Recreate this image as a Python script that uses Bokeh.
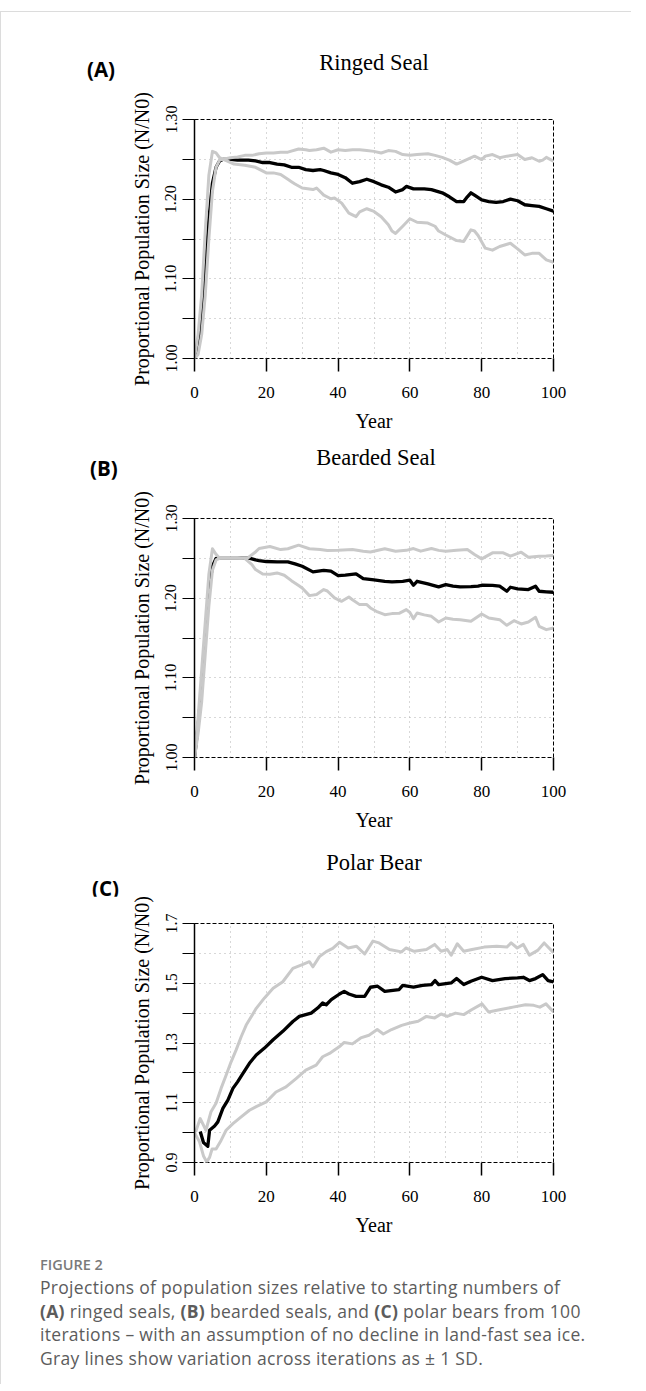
from bokeh.plotting import figure
from bokeh.models import FixedTicker, CustomJSTickFormatter, Div, Range1d
from bokeh.layouts import column
from bokeh.embed import file_html
from bokeh.resources import INLINE

# ---------------- data ----------------
x_ticks = [0, 20, 40, 60, 80, 100]
x_grid = [10, 20, 30, 40, 50, 60, 70, 80, 90]

seal_yticks = [1.00, 1.05, 1.10, 1.15, 1.20, 1.25, 1.30]
seal_ylabels = ["1.00", "", "1.10", "", "1.20", "", "1.30"]
bear_yticks = [0.9, 1.0, 1.1, 1.2, 1.3, 1.4, 1.5, 1.6, 1.7]
bear_ylabels = ["0.9", "", "1.1", "", "1.3", "", "1.5", "", "1.7"]

# (A) Ringed seal
a_mean_yr = [0, 1, 2, 3, 4, 5, 6, 7, 8, 10, 12, 15, 17, 19, 21, 23, 25, 27, 29, 31,
             33, 35, 36, 38, 40, 42, 44, 46, 48, 50, 52, 54, 56, 58, 59, 61, 64, 66, 69, 71,
             73, 75, 76, 77, 78, 80, 82, 84, 86, 88, 90, 92, 94, 96, 98, 100]
a_mean = [1.0, 1.015, 1.05, 1.11, 1.175, 1.22, 1.24, 1.248, 1.25, 1.25,
          1.249, 1.249, 1.248, 1.246, 1.246, 1.244, 1.243, 1.240, 1.240, 1.237,
          1.236, 1.237, 1.236, 1.233, 1.231, 1.227, 1.220, 1.222, 1.225, 1.222,
          1.218, 1.215, 1.209, 1.212, 1.216, 1.213, 1.213, 1.212, 1.208, 1.203,
          1.197, 1.197, 1.203, 1.208, 1.205, 1.199, 1.197, 1.196, 1.197, 1.200,
          1.198, 1.193, 1.192, 1.191, 1.188, 1.185]
a_up_yr = [0, 1, 2, 3, 4, 5, 6, 7, 8, 10, 12, 14, 16, 18, 20, 22, 24, 26, 29,
           31, 32, 34, 36, 38, 40, 42, 44, 46, 48, 50, 52, 54, 56, 58, 60, 62, 65, 67, 69,
           71, 73, 74, 76, 78, 80, 81, 83, 85, 87, 90, 92, 94, 96, 97, 98, 100]
a_up = [1.0, 1.03, 1.08, 1.16, 1.23, 1.26, 1.258, 1.252, 1.25,
        1.252, 1.253, 1.255, 1.255, 1.257, 1.258, 1.258, 1.259, 1.259, 1.263,
        1.262, 1.261, 1.262, 1.264, 1.259, 1.262, 1.261, 1.262, 1.262, 1.261,
        1.260, 1.258, 1.261, 1.260, 1.256, 1.255, 1.256, 1.257, 1.255, 1.2525,
        1.249, 1.244, 1.246, 1.250, 1.254, 1.2497, 1.254, 1.256, 1.252, 1.254,
        1.256, 1.2497, 1.252, 1.2476, 1.249, 1.2525, 1.2476]
a_lo_yr = [0, 1, 2, 3, 4, 5, 6, 7, 8, 9, 11, 14, 17, 20, 22, 24, 26, 27, 28, 30,
           33, 34, 36, 38, 39, 41, 43, 45, 46, 48, 50, 52, 54, 55, 56, 58, 60, 62, 65, 67,
           68, 70, 73, 75, 77, 78, 79, 81, 83, 85, 88, 90, 92, 94, 96, 98, 100]
a_lo = [1.0, 1.005, 1.03, 1.08, 1.15, 1.21, 1.24, 1.249, 1.25, 1.248,
        1.244, 1.2425, 1.24, 1.233, 1.233, 1.231, 1.225, 1.222, 1.219, 1.214,
        1.212, 1.214, 1.205, 1.2005, 1.2014, 1.195, 1.1825, 1.178, 1.184, 1.188,
        1.1846, 1.178, 1.168, 1.160, 1.157, 1.166, 1.1754, 1.171, 1.170, 1.166,
        1.160, 1.155, 1.148, 1.147, 1.1615, 1.160, 1.1544, 1.1385, 1.136, 1.1406,
        1.1447, 1.1376, 1.130, 1.132, 1.132, 1.1238, 1.1208]

# (B) Bearded seal
b_mean_yr = [0, 1, 2, 3, 4, 5, 6, 8, 10, 12, 15, 17, 18, 20, 23, 26, 28, 30, 33, 36,
             38, 40, 42, 45, 47, 50, 53, 55, 58, 60, 61, 62, 65, 68, 70, 72, 74, 77, 79, 80,
             83, 85, 87, 88, 90, 93, 95, 96, 98, 100]
b_mean = [1.0, 1.04, 1.09, 1.15, 1.21, 1.24, 1.25, 1.25, 1.25, 1.25,
          1.2506, 1.248, 1.2472, 1.246, 1.2455, 1.2455, 1.243, 1.240, 1.233, 1.235,
          1.234, 1.2284, 1.229, 1.2304, 1.2246, 1.2229, 1.221, 1.2204, 1.2212, 1.2225,
          1.2162, 1.2212, 1.2179, 1.2141, 1.217, 1.215, 1.2141, 1.2145, 1.215, 1.2162,
          1.216, 1.215, 1.2087, 1.2137, 1.2116, 1.2108, 1.215, 1.2087, 1.208, 1.2074]
b_up_yr = [0, 1, 2, 3, 4, 5, 6, 7, 10, 13, 15, 17, 18, 21, 24, 26, 29, 32, 35, 37,
           40, 44, 47, 49, 53, 56, 59, 61, 63, 66, 68, 70, 73, 76, 78, 80, 83, 86, 88, 91,
           93, 96, 98, 100]
b_up = [1.0, 1.05, 1.11, 1.17, 1.23, 1.262, 1.255, 1.25, 1.25, 1.25,
        1.251, 1.258, 1.2623, 1.2648, 1.261, 1.262, 1.2665, 1.262, 1.261, 1.2598,
        1.260, 1.261, 1.259, 1.258, 1.262, 1.259, 1.26, 1.2623, 1.259, 1.2623,
        1.260, 1.259, 1.260, 1.261, 1.2548, 1.2493, 1.2569, 1.2569, 1.2527, 1.2577,
        1.2514, 1.2527, 1.253, 1.2535]
b_lo_yr = [0, 1, 2, 3, 4, 5, 6, 7, 10, 14, 16, 17, 19, 21, 23, 25, 27, 29, 30, 32,
           34, 36, 37, 39, 40, 41, 43, 44, 46, 48, 49, 51, 53, 55, 57, 59, 60, 61, 62, 64,
           66, 68, 70, 72, 74, 77, 80, 82, 85, 87, 89, 91, 93, 95, 96, 98, 100]
b_lo = [1.0, 1.03, 1.07, 1.13, 1.19, 1.235, 1.248, 1.25, 1.25, 1.25,
        1.242, 1.2359, 1.2304, 1.230, 1.2317, 1.2288, 1.222, 1.216, 1.2128, 1.2032,
        1.2045, 1.2108, 1.209, 1.2003, 1.198, 1.1961, 1.2015, 1.198, 1.1919, 1.1919,
        1.1877, 1.1827, 1.1793, 1.1806, 1.181, 1.1856, 1.182, 1.1743, 1.1814, 1.179,
        1.1772, 1.1701, 1.1751, 1.1735, 1.1730, 1.1709, 1.1802, 1.1751, 1.173, 1.1659,
        1.1718, 1.1676, 1.1701, 1.176, 1.1647, 1.1605, 1.1626]

# (C) Polar bear
c_mean_yr = [1.6, 2.5, 3.7, 4.2, 5.6, 6.5, 7.9, 9.3, 10.7, 12,
             13.5, 15.3, 17.2, 19.5, 21.9, 24.6, 27.4, 29.2, 32.5, 34.3,
             35.7, 36.7, 38.1, 40.4, 41.7, 43, 45, 47.4, 49, 51,
             53, 57, 58, 61, 63.5, 66, 67, 68, 71.5, 73,
             75, 77, 80, 83, 86.5, 90, 91.6, 93.3, 95, 97, 98.5, 100]
c_mean = [1.004, 0.967, 0.954, 1.008, 1.022, 1.036, 1.081, 1.109, 1.148, 1.17,
          1.198, 1.232, 1.26, 1.283, 1.311, 1.339, 1.372, 1.389, 1.4, 1.417,
          1.434, 1.428, 1.445, 1.464, 1.473, 1.464, 1.456, 1.456, 1.4866, 1.49,
          1.473, 1.479, 1.493, 1.487, 1.493, 1.4955, 1.509, 1.4955, 1.501, 1.5157,
          1.4955, 1.5067, 1.52, 1.509, 1.5157, 1.518, 1.52, 1.509, 1.5157, 1.529,
          1.509, 1.5045]
c_up_yr = [0.3, 1.6, 3.2, 4.6, 6, 7.4, 8.8, 10.2, 11.6, 13,
           14.4, 15.8, 17.2, 19.5, 21.9, 24.6, 27.4, 30.2, 32, 33,
           34.8, 36.7, 38.5, 40.4, 42.8, 45.1, 47.4, 49.7, 51.4, 54.3,
           57.7, 58.9, 61.2, 64.6, 66.9, 68.7, 70.4, 71.5, 73.2, 75,
           77.3, 80.7, 84.2, 87, 88.2, 89.9, 91.6, 93.3, 95.6, 97.4, 100]
c_up = [1.002, 1.047, 1.008, 1.07, 1.098, 1.148, 1.192, 1.237, 1.277, 1.321,
        1.36, 1.388, 1.416, 1.451, 1.483, 1.505, 1.55, 1.563, 1.572, 1.555,
        1.589, 1.606, 1.617, 1.637, 1.618, 1.624, 1.598, 1.641, 1.635, 1.613,
        1.605, 1.618, 1.607, 1.613, 1.63, 1.607, 1.613, 1.594, 1.632, 1.607,
        1.613, 1.621, 1.624, 1.621, 1.635, 1.618, 1.63, 1.594, 1.61, 1.635, 1.602]
c_lo_yr = [0, 1.4, 2.5, 3.4, 4.2, 4.9, 6, 7.4, 8.8, 10.7,
           13, 15.3, 17.2, 20, 22.7, 25.5, 28.3, 31, 33.9, 35.7,
           37.6, 40.4, 41.7, 44, 46.3, 48.6, 50.9, 52.6, 54.9, 57.7,
           60, 62.3, 64.6, 66.9, 68.7, 70.4, 72.7, 75, 77.3, 80.1,
           81.9, 85.3, 88.7, 92.2, 94.5, 96.2, 97.9, 100]
c_lo = [1.0, 0.969, 0.922, 0.902, 0.917, 0.945, 0.945, 0.974, 1.008, 1.03,
        1.053, 1.075, 1.087, 1.103, 1.136, 1.153, 1.181, 1.209, 1.226, 1.254,
        1.265, 1.288, 1.302, 1.297, 1.317, 1.326, 1.345, 1.33, 1.345, 1.359,
        1.367, 1.373, 1.389, 1.384, 1.397, 1.389, 1.4, 1.395, 1.412, 1.431,
        1.404, 1.412, 1.42, 1.428, 1.426, 1.42, 1.431, 1.404]

titles = ["Ringed Seal", "Bearded Seal", "Polar Bear"]
tags = ["(A)", "(B)", "(C)"]

SERIF = "Liberation Serif"
GRAY = "#c9c9c9"
FIG_W = 630
FRAME_W = 359
FRAME_H = 239


def header(title, tag, h, tx, ty, gx, gy):
    html = (
        f'<div style="position:relative;width:{FIG_W}px;height:{h}px;">'
        f'<span style="position:absolute;left:{tx}px;top:{ty}px;transform:translate(-50%,-50%);'
        f"font-family:'{SERIF}';font-size:22.5px;color:#000;white-space:nowrap;line-height:1;\">{title}</span>"
        f'<span style="position:absolute;left:{gx}px;top:{gy}px;transform:translateY(-50%);'
        f"font-family:'Open Sans';font-weight:700;font-size:20.5px;color:#000;white-space:nowrap;line-height:1;\">{tag}</span>"
        f'</div>')
    return Div(width=FIG_W, height=h, margin=(0, 0, 0, 0), text=html)


def panel(myr, m, uyr, u, lyr, l, yrange, yticks, ylabels, left, top, bottom):
    p = figure(frame_width=FRAME_W, frame_height=FRAME_H,
               x_range=Range1d(0, 100), y_range=Range1d(*yrange),
               output_backend="svg", toolbar_location=None,
               min_border_left=left, min_border_right=FIG_W - left - FRAME_W,
               min_border_top=top, min_border_bottom=bottom, margin=(0, 0, 0, 0))
    p.outline_line_color = "black"
    p.outline_line_dash = "4 2"
    p.outline_line_width = 1

    # x axis
    xa = p.xaxis[0]
    xa.ticker = FixedTicker(ticks=x_ticks)
    xa.major_tick_out = 13
    xa.major_tick_in = 0
    xa.major_tick_line_width = 1.5
    xa.minor_tick_line_color = None
    xa.axis_line_color = None
    xa.major_label_text_font = SERIF
    xa.major_label_text_font_size = "17px"
    xa.major_label_text_color = "black"
    xa.major_label_standoff = 15
    xa.axis_label = "Year"
    xa.axis_label_text_font = SERIF
    xa.axis_label_text_font_size = "20px"
    xa.axis_label_text_font_style = "normal"
    xa.axis_label_text_color = "black"
    xa.axis_label_standoff = 9

    # y axis
    ya = p.yaxis[0]
    ya.ticker = FixedTicker(ticks=yticks)
    ya.formatter = CustomJSTickFormatter(
        args=dict(tk=yticks, lb=ylabels),
        code="for (let i = 0; i < tk.length; i++) { if (Math.abs(tk[i] - tick) < 1e-6) return lb[i]; } return '';")
    ya.major_label_orientation = "vertical"
    ya.major_tick_out = 12
    ya.major_tick_in = 0
    ya.minor_tick_line_color = None
    ya.axis_line_color = "black"
    ya.axis_line_width = 1.5
    ya.major_label_text_font = SERIF
    ya.major_label_text_font_size = "16px"
    ya.major_label_text_color = "black"
    ya.major_label_standoff = 6
    ya.axis_label = "Proportional Population Size (N/N0)"
    ya.axis_label_text_font = SERIF
    ya.axis_label_text_font_size = "20px"
    ya.axis_label_text_font_style = "normal"
    ya.axis_label_text_color = "black"
    ya.axis_label_standoff = 10

    # grids
    p.xgrid.ticker = FixedTicker(ticks=x_grid)
    p.ygrid.ticker = FixedTicker(ticks=yticks[1:-1])
    for g in (p.xgrid, p.ygrid):
        g.grid_line_color = "#b0b0b0"
        g.grid_line_dash = "1 4"
        g.grid_line_width = 1

    p.line(myr, m, line_color="black", line_width=3.3, line_join="round")
    p.line(uyr, u, line_color=GRAY, line_width=3, line_join="round")
    p.line(lyr, l, line_color=GRAY, line_width=3, line_join="round")
    return p


# page layout (top of column at y = 11):
# header A 11-91, fig A 91-437 (frame 118-357), header B 437-490,
# fig B 490-836 (frame 517-756), header C 836-895, fig C 895-1241 (frame 922-1161)
ha = header(titles[0], tags[0], 80, 373, 51, 86, 57)
pa = panel(a_mean_yr, a_mean, a_up_yr, a_up, a_lo_yr, a_lo, (1.0, 1.3),
           seal_yticks, seal_ylabels, left=187, top=27, bottom=80)
hb = header(titles[1], tags[1], 53, 375, 20, 89, 30)
pb = panel(b_mean_yr, b_mean, b_up_yr, b_up, b_lo_yr, b_lo, (1.0, 1.3),
           seal_yticks, seal_ylabels, left=189, top=27, bottom=80)
hc = header(titles[2], tags[2], 59, 373, 26, 91, 51)
pc = panel(c_mean_yr, c_mean, c_up_yr, c_up, c_lo_yr, c_lo, (0.9, 1.7),
           bear_yticks, bear_ylabels, left=193, top=27, bottom=80)

caption = Div(width=FIG_W, height=142, margin=(0, 0, 0, 0), text="""
<div style="font-family:'Open Sans'; padding-left:39px; padding-top:12px; color:#5c5c5c;">
<div style="font-size:14.5px; font-weight:600; color:#7a7a7a; line-height:22px;">FIGURE 2</div>
<div style="font-size:17.5px; letter-spacing:0.3px; line-height:23.5px; white-space:nowrap;">
Projections of population sizes relative to starting numbers of<br>
<b>(A)</b> ringed seals, <b>(B)</b> bearded seals, and <b>(C)</b> polar bears from 100<br>
iterations &ndash; with an assumption of no decline in land-fast sea ice.<br>
Gray lines show variation across iterations as &plusmn; 1 SD.
</div></div>""")

layout = column(ha, pa, hb, pb, hc, pc, caption, spacing=0, margin=(11, 0, 0, 0),
                styles={"border-top": "1px solid #dcdcdc", "border-left": "1px solid #dcdcdc"})

open("out.html", "w").write(file_html(layout, INLINE))
